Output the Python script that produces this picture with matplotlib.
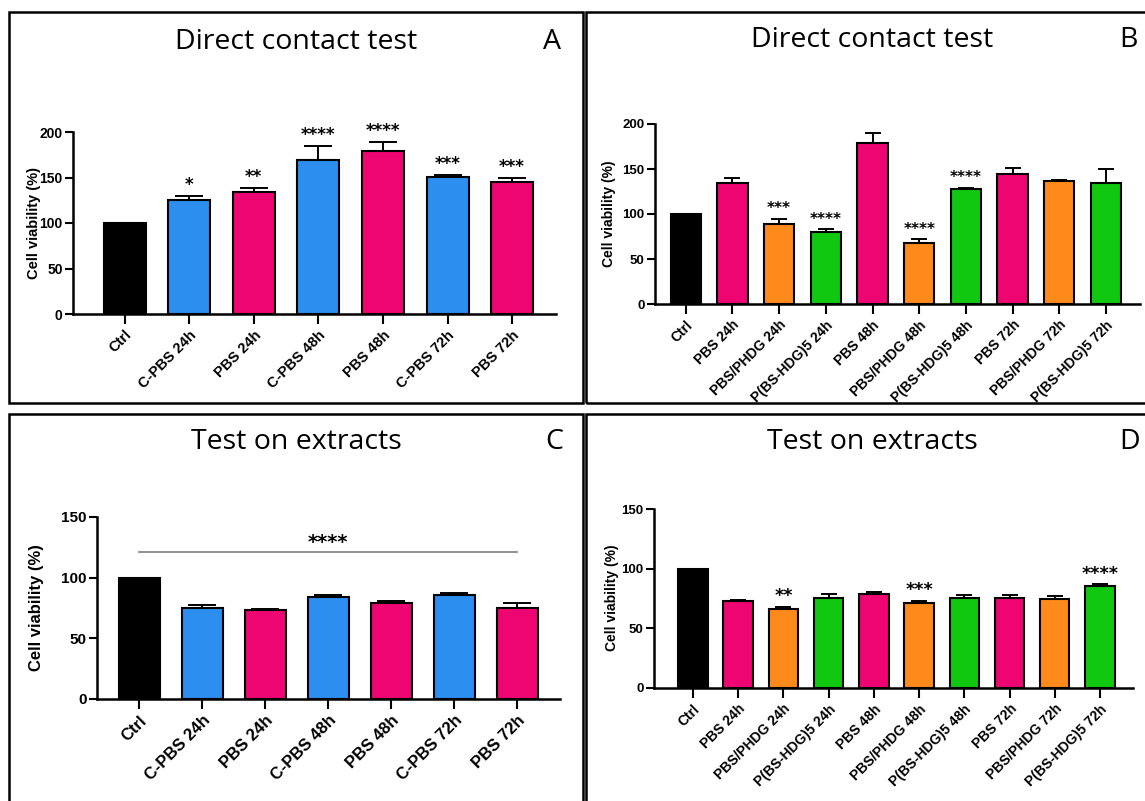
import matplotlib
matplotlib.use("Agg")
import matplotlib.pyplot as plt
from matplotlib.patches import Rectangle

# ---------------- data ----------------
A_labels = ['Ctrl', 'C-PBS 24h', 'PBS 24h', 'C-PBS 48h', 'PBS 48h', 'C-PBS 72h', 'PBS 72h']
A_values = [100, 125, 134, 169, 179, 151, 145]
A_err = [0, 5, 5, 16, 10, 2, 5]
A_groups = ['ctrl', 'cpbs', 'pbs', 'cpbs', 'pbs', 'cpbs', 'pbs']
A_stars = ['', '*', '**', '****', '****', '***', '***']

B_labels = ['Ctrl', 'PBS 24h', 'PBS/PHDG 24h', 'P(BS-HDG)5 24h', 'PBS 48h',
            'PBS/PHDG 48h', 'P(BS-HDG)5 48h', 'PBS 72h', 'PBS/PHDG 72h', 'P(BS-HDG)5 72h']
B_values = [100, 135, 89, 80.5, 179, 68, 128, 145, 137, 134]
B_err = [0, 4.5, 6, 2.5, 11, 4, 1, 6, 1, 16]
B_groups = ['ctrl', 'pbs', 'phdg', 'hdg', 'pbs', 'phdg', 'hdg', 'pbs', 'phdg', 'hdg']
B_stars = ['', '', '***', '****', '', '****', '****', '', '', '']

C_labels = A_labels
C_values = [100, 75, 73, 84, 79, 85.5, 75]
C_err = [0, 2.5, 1.5, 1.4, 2, 2.2, 4]
C_groups = A_groups
C_bracket_level = 121.4
C_bracket_stars = '****'

D_labels = B_labels
D_values = [100, 73, 66.6, 75.5, 79, 71.6, 75.5, 75.5, 75, 85.3]
D_err = [0, 1, 1.5, 3, 1.6, 1.7, 2.3, 2.8, 2.2, 1.7]
D_groups = B_groups
D_stars = ['', '', '**', '', '', '***', '', '', '', '****']

COLORS = {'ctrl': '#000000', 'cpbs': '#2C8FEF', 'pbs': '#EE0572',
          'phdg': '#FD8A1B', 'hdg': '#10C810'}

W, H = 1145, 801
fig = plt.figure(figsize=(W / 100, H / 100), dpi=100)
fig.patch.set_facecolor('white')

TICKFONT = 'Liberation Sans'
TITLEFONT = 'Open Sans'


def add_ax(l, r, t, b):
    return fig.add_axes([l / W, 1 - b / H, (r - l) / W, (b - t) / H])


def frame(x1, y1, x2, y2):
    fig.add_artist(Rectangle((x1 / W, 1 - y2 / H), (x2 - x1) / W, (y2 - y1) / H,
                             transform=fig.transFigure, fill=False,
                             edgecolor='black', lw=1.8, clip_on=False))


def panel(ax, labels, values, err, groups, stars, ymax, yticks, xlim, fs_x, fs_y,
          fs_star, capsize, star_gap):
    x = list(range(len(values)))
    cols = [COLORS[g] for g in groups]
    ax.bar(x, values, width=0.65, color=cols, edgecolor='black', linewidth=1.5, zorder=2)
    ex = [i for i in x if err[i] > 0]
    ax.errorbar(ex, [values[i] for i in ex], yerr=[[0] * len(ex), [err[i] for i in ex]],
                fmt='none', ecolor='black', elinewidth=1.4, capsize=capsize,
                capthick=1.4, zorder=3)
    for i in x:
        if stars and stars[i]:
            ax.annotate(stars[i], (i, values[i] + err[i]), xytext=(0, star_gap),
                        textcoords='offset points', ha='center', va='baseline',
                        fontsize=fs_star, fontweight='bold', family='DejaVu Sans',
                        annotation_clip=False, zorder=4)
    ax.set_ylim(0, ymax)
    ax.set_xlim(*xlim)
    ax.set_yticks(yticks)
    ax.set_xticks(x)
    ax.set_xticklabels(labels, rotation=45, ha='right', rotation_mode='anchor')
    for s in ('top', 'right'):
        ax.spines[s].set_visible(False)
    for s in ('left', 'bottom'):
        ax.spines[s].set_linewidth(1.8)
    ax.tick_params(axis='y', width=1.5, length=5.5, pad=2, labelsize=fs_y)
    ax.tick_params(axis='x', width=1.5, length=7, pad=3, labelsize=fs_x)
    for lab in ax.get_xticklabels() + ax.get_yticklabels():
        lab.set_fontfamily(TICKFONT)
        lab.set_fontweight('bold')
    ax.set_facecolor('none')


# frames
frame(9, 12, 583, 403)
frame(586, 12, 1150, 403)
frame(9, 414, 583, 806)
frame(586, 414, 1150, 806)

# Panel A
axA = add_ax(73, 556, 132, 314)
panel(axA, A_labels, A_values, A_err, A_groups, A_stars, 200, [0, 50, 100, 150, 200],
      (-0.8, 6.68), 10.5, 10, 12, 10, 4)
# Panel B
axB = add_ax(655, 1140, 124, 304)
panel(axB, B_labels, B_values, B_err, B_groups, B_stars, 200, [0, 50, 100, 150, 200],
      (-0.66, 9.73), 10, 9.5, 11, 6, 4)
# Panel C
axC = add_ax(97, 560, 517, 699)
panel(axC, C_labels, C_values, C_err, C_groups, None, 150, [0, 50, 100, 150],
      (-0.667, 6.68), 12, 11, 14, 10, 4)
axC.plot([0, len(C_values) - 1], [C_bracket_level] * 2, color='#8a8a8a', lw=1.3, zorder=3)
axC.annotate(C_bracket_stars, ((len(C_values) - 1) / 2, C_bracket_level), xytext=(0, 3),
             textcoords='offset points', ha='center', va='baseline', fontsize=14,
             fontweight='bold', family='DejaVu Sans')
# Panel D
axD = add_ax(654, 1133, 509, 688)
panel(axD, D_labels, D_values, D_err, D_groups, D_stars, 150, [0, 50, 100, 150],
      (-0.86, 9.73), 10, 9.5, 12.5, 6, 4)

# y labels
for (xp, yp, fs) in [(34, 223, 10.5), (609, 214, 10), (37, 608, 12), (612, 598, 10)]:
    fig.text(xp / W, 1 - yp / H, 'Cell viability (%)', rotation=90, ha='center',
             va='center', fontsize=fs, fontweight='bold', family=TICKFONT)

# titles and letters
for (xp, yp, t) in [(296, 42, 'Direct contact test'), (872, 40, 'Direct contact test'),
                    (296, 442, 'Test on extracts'), (872, 442, 'Test on extracts')]:
    fig.text(xp / W, 1 - yp / H, t, ha='center', va='center', fontsize=20.5, family=TITLEFONT)
for (xp, yp, t) in [(552, 42, 'A'), (1128, 40, 'B'), (554, 442, 'C'), (1130, 442, 'D')]:
    fig.text(xp / W, 1 - yp / H, t, ha='center', va='center', fontsize=20.5, family=TITLEFONT)

fig.savefig('out.png', dpi=100, facecolor='white')
